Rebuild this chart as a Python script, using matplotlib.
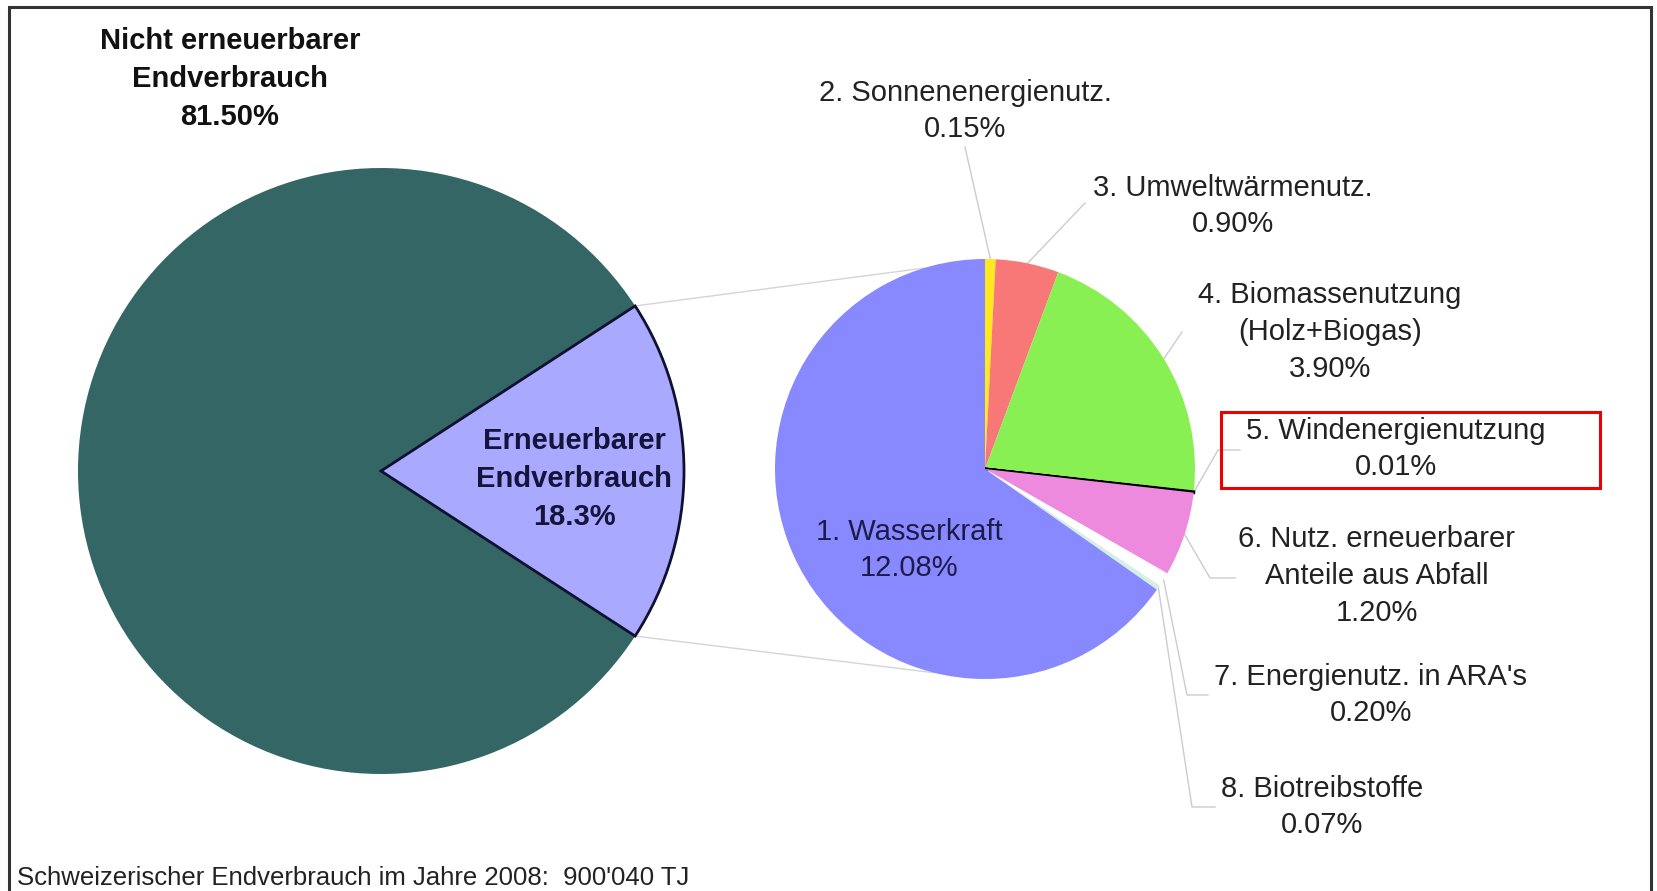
import matplotlib
matplotlib.use("Agg")
import matplotlib.pyplot as plt
import numpy as np
from matplotlib.patches import Rectangle

plt.rcParams['font.family'] = ['Liberation Sans', 'DejaVu Sans']

# main split: non-renewable vs renewable
main_labels = ["Nicht erneuerbarer\nEndverbrauch\n81.50%", "Erneuerbarer\nEndverbrauch\n18.3%"]
main_values = [81.5, 18.3]
main_colors = ['#336664', '#a9a9ff']

# renewable breakdown (clockwise from top)
sub_labels = ["2. Sonnenenergienutz.\n0.15%",
              "3. Umweltwärmenutz.\n0.90%",
              "4. Biomassenutzung\n(Holz+Biogas)\n3.90%",
              "5. Windenergienutzung\n0.01%",
              "6. Nutz. erneuerbarer\nAnteile aus Abfall\n1.20%",
              "7. Energienutz. in ARA's\n0.20%",
              "8. Biotreibstoffe\n0.07%",
              "1. Wasserkraft\n12.08%"]
sub_values = [0.15, 0.90, 3.90, 0.01, 1.20, 0.20, 0.07, 12.08]
sub_colors = ['#ffe81e', '#f87878', '#88f052', '#000000', '#ee8ade', '#ffffff', '#d4f0e4', '#8888ff']

footer = "Schweizerischer Endverbrauch im Jahre 2008:  900'040 TJ"

W, H = 1658, 891
fig = plt.figure(figsize=(W / 100, H / 100), dpi=100)
ax = fig.add_axes([0, 0, 1, 1])

def Y(y):
    return H - y

# left pie
c1 = (381, Y(471))
r1 = 303
start1 = 180 * main_values[1] / sum(main_values)
w1, _ = ax.pie(main_values, colors=main_colors, startangle=start1, counterclock=True,
               center=c1, radius=r1, wedgeprops=dict(linewidth=0))
w1[1].set_edgecolor('#101030')
w1[1].set_linewidth(2)

# right pie
c2 = (985, Y(469))
r2 = 210
w2, _ = ax.pie(sub_values, colors=sub_colors, startangle=90, counterclock=False,
               center=c2, radius=r2, wedgeprops=dict(linewidth=0))
w2[3].set_edgecolor('#000000')
w2[3].set_linewidth(2.2)

ax.set_xlim(0, W)
ax.set_ylim(0, H)
ax.set_aspect('auto')
ax.axis('off')

# connection lines between the pies
for a1, a2 in [(w1[1].theta2, 107), (w1[1].theta1, -104)]:
    p1 = (c1[0] + r1 * np.cos(np.radians(a1)), c1[1] + r1 * np.sin(np.radians(a1)))
    p2 = (c2[0] + r2 * np.cos(np.radians(a2)), c2[1] + r2 * np.sin(np.radians(a2)))
    ax.plot([p1[0], p2[0]], [p1[1], p2[1]], color='#d4d4d4', lw=1, zorder=0)

# main labels
ax.text(230, Y(79), main_labels[0], ha='center', va='center', fontsize=21,
        fontweight='bold', color='#111111', linespacing=1.45)
ax.text(574, Y(479), main_labels[1], ha='center', va='center', fontsize=21,
        fontweight='bold', color='#14143c', linespacing=1.45)

# inner label for Wasserkraft
ax.text(909, Y(550), sub_labels[7], ha='center', va='center', fontsize=21,
        color='#1c1c4a', linespacing=1.4)

# outside labels: text center, elbow point
label_pos = [(965, 111), (1233, 206), (1330, 332), (1396, 449),
             (1377, 576), (1371, 695), (1322, 807)]
elbows = [None, None, (1192, 332), (1228, 450), (1220, 578), (1197, 695), (1202, 807)]
starts = [(965, 147), (1085, 203), (1182, 332), (1240, 450), (1235, 578), (1208, 695), (1215, 807)]

for i, (tx, ty) in enumerate(label_pos):
    ax.text(tx, Y(ty), sub_labels[i], ha='center', va='center', fontsize=21,
            color='#222222', linespacing=1.4)
    w = w2[i]
    mid = np.radians((w.theta1 + w.theta2) / 2)
    px, py = c2[0] + r2 * np.cos(mid), c2[1] + r2 * np.sin(mid)
    xs = [starts[i][0]]
    ys = [Y(starts[i][1])]
    if elbows[i] is not None and i >= 2:
        xs.append(elbows[i][0] - 10)
        ys.append(Y(elbows[i][1]))
    xs.append(px)
    ys.append(py)
    ax.plot(xs, ys, color='#cccccc', lw=1, zorder=0.5)

# highlight box for wind
ax.add_patch(Rectangle((1221, Y(488)), 379, 76, fill=False, edgecolor='#ee0000', lw=2.2))

# footer
ax.text(17, Y(878), footer, ha='left', va='center', fontsize=18.5, color='#222222')

# frame
ax.add_patch(Rectangle((9, Y(897)), 1642, 890, fill=False, edgecolor='#333333', lw=2.2,
                       clip_on=False))

fig.savefig("out.png", dpi=100)
